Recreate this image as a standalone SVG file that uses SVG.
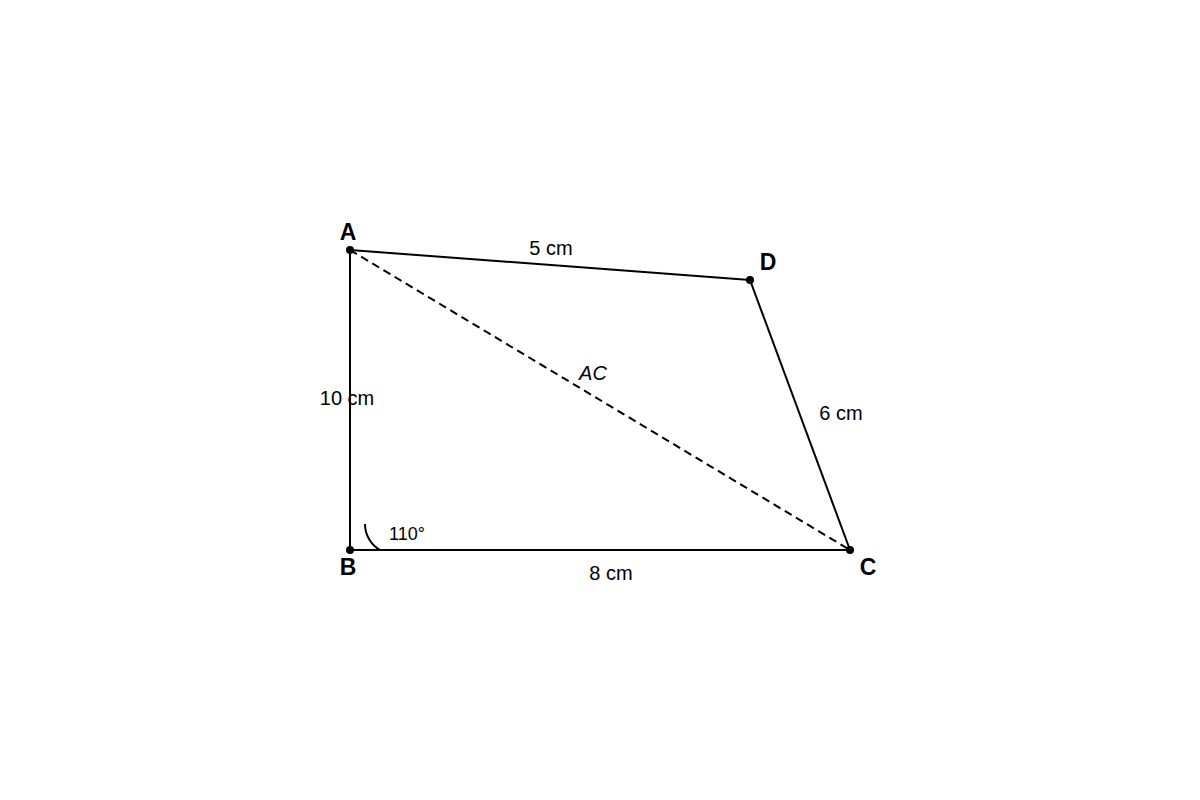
<svg xmlns="http://www.w3.org/2000/svg" width="1200" height="800" viewBox="0 0 1200 800">
<style>
.edge{stroke:#000;stroke-width:2;fill:none}
.dash{stroke:#000;stroke-width:2;fill:none;stroke-dasharray:8 5}
.pt{fill:#000}
.vl{font-family:"Liberation Sans",Arial,sans-serif;font-size:23px;font-weight:bold;text-anchor:middle;fill:#000}
.lbl{font-family:"Liberation Sans",Arial,sans-serif;font-size:20px;text-anchor:middle;fill:#000}
</style>
<rect width="1200" height="800" fill="#fff"/>
<g id="connectors">
<line class="edge" x1="350" y1="250" x2="750" y2="280"/>
<line class="edge" x1="750" y1="280" x2="850" y2="550"/>
<line class="edge" x1="350" y1="550" x2="850" y2="550"/>
<line class="edge" x1="350" y1="250" x2="350" y2="550"/>
<line class="dash" x1="350" y1="250" x2="850" y2="550"/>
<path class="edge" stroke-width="1.3" d="M365,524 A30,30 0 0 0 380,550"/>
</g>
<g id="A"><circle class="pt" cx="350" cy="250" r="4"/><text class="vl" x="348" y="240">A</text></g>
<g id="D"><circle class="pt" cx="750" cy="280" r="4"/><text class="vl" x="768" y="270">D</text></g>
<g id="B"><circle class="pt" cx="350" cy="550" r="4"/><text class="vl" x="348" y="575">B</text></g>
<g id="C"><circle class="pt" cx="850" cy="550" r="4"/><text class="vl" x="868" y="575">C</text></g>
<g id="labels">
<text class="lbl" x="551" y="255">5 cm</text>
<text class="lbl" x="347" y="405">10 cm</text>
<text class="lbl" x="841" y="420">6 cm</text>
<text class="lbl" x="611" y="580">8 cm</text>
<text class="lbl" x="593" y="380" font-style="italic">AC</text>
<text class="lbl" x="407" y="540" style="font-size:18px">110°</text>
</g>
</svg>
